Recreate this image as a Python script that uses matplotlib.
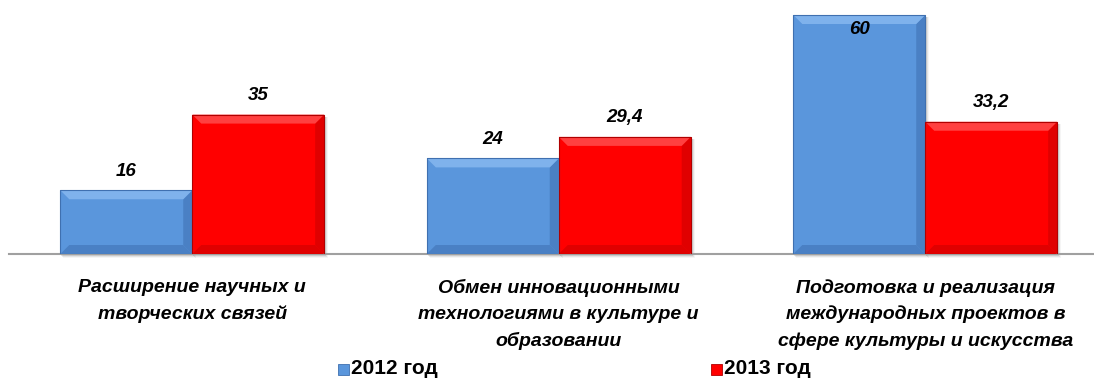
import numpy as np
import matplotlib.pyplot as plt
from matplotlib.patches import Polygon

# chart data
categories = [
    "Расширение научных и\nтворческих связей",
    "Обмен инновационными\nтехнологиями в культуре и\nобразовании",
    "Подготовка и реализация\nмеждународных проектов в\nсфере культуры и искусства",
]
series_names = ["2012 год", "2013 год"]
values_2012 = [16, 24, 60]
values_2013 = [35, 29.4, 33.2]
value_labels_2012 = ["16", "24", "60"]
value_labels_2013 = ["35", "29,4", "33,2"]

colors = ["#5A96DC", "#FF0000"]
light = ["#7FB2EC", "#FF4040"]
dark = ["#4A80C4", "#E00000"]
edge = ["#3F70B0", "#B00000"]

plt.rcParams['font.family'] = ['Liberation Sans', 'DejaVu Sans']

W, H = 1094, 385
fig = plt.figure(figsize=(W / 100, H / 100), dpi=100)

# axes placed in pixel terms: baseline at y=254, category centres at 192/558.5/925
left_px, right_px = 9, 1094
ax = fig.add_axes([left_px / W, (H - 254) / H, (right_px - left_px) / W, 254 / H])
ax.set_xlim(-0.5, -0.5 + (right_px - left_px) / 366.5)
ax.set_ylim(0, 60 * 254 / 239)
for s in ["top", "right", "left"]:
    ax.spines[s].set_visible(False)
ax.spines["bottom"].set_color("#A0A0A0")
ax.spines["bottom"].set_linewidth(1.5)
ax.set_yticks([])
ax.set_xticks([])

x = np.arange(len(categories))
bw = 0.36

# px -> data units for the bevel
px_x = (ax.get_xlim()[1] - ax.get_xlim()[0]) / (right_px - left_px)
px_y = (ax.get_ylim()[1] - ax.get_ylim()[0]) / 254
bev = 9


def bevel_bar(xc, h, i):
    x0, x1 = xc - bw / 2, xc + bw / 2
    bx, by = bev * px_x, bev * px_y
    # soft shadow
    for k, a in enumerate([0.10, 0.07, 0.04]):
        ax.add_patch(Polygon([(x0 + (k + 1) * px_x, -(k + 2) * px_y), (x1 + (k + 2) * px_x, -(k + 2) * px_y),
                              (x1 + (k + 2) * px_x, h - 2 * px_y), (x0 + (k + 1) * px_x, h - 2 * px_y)],
                             closed=True, color="black", alpha=a, lw=0, zorder=1, clip_on=False))
    ax.bar(xc, h, bw, color=colors[i], zorder=2, lw=0)
    top = [(x0, h), (x1, h), (x1 - bx, h - by), (x0 + bx, h - by)]
    bot = [(x0, 0), (x1, 0), (x1 - bx, by), (x0 + bx, by)]
    rgt = [(x1, 0), (x1, h), (x1 - bx, h - by), (x1 - bx, by)]
    ax.add_patch(Polygon(rgt, closed=True, color=dark[i], lw=0, zorder=3))
    ax.add_patch(Polygon(bot, closed=True, color=dark[i], lw=0, zorder=3))
    ax.add_patch(Polygon(top, closed=True, color=light[i], lw=0, zorder=3))
    ax.plot([x0, x1, x1, x0, x0], [0, 0, h, h, 0], color=edge[i], lw=0.8, zorder=4)


for j in range(len(categories)):
    bevel_bar(x[j] - bw / 2, values_2012[j], 0)
    bevel_bar(x[j] + bw / 2, values_2013[j], 1)

lab_kw = dict(ha="center", va="center", fontsize=13.5, fontweight="bold", fontstyle="italic", zorder=5)
for j in range(len(categories)):
    v = values_2012[j]
    if v > 55:
        ax.text(x[j] - bw / 2, v - 15 * px_y, value_labels_2012[j], **lab_kw)
    else:
        ax.text(x[j] - bw / 2, v + 19 * px_y, value_labels_2012[j], **lab_kw)
    ax.text(x[j] + bw / 2, values_2013[j] + 19 * px_y, value_labels_2013[j], **lab_kw)

# category labels under the axis, one text per line
for j, c in enumerate(categories):
    for k, line in enumerate(c.split("\n")):
        ax.text(x[j], -(34 + 26.5 * k) * px_y, line, ha="center", va="center", fontsize=14,
                fontweight="bold", fontstyle="italic", clip_on=False)

# legend
leg_y = 369
for i, (name, lx) in enumerate(zip(series_names, [338, 711])):
    fig.patches.append(plt.Rectangle(((lx) / W, (H - leg_y - 6) / H), 11 / W, 11 / H,
                                     transform=fig.transFigure, facecolor=colors[i],
                                     edgecolor=edge[i], lw=0.6))
    fig.text((lx + 13) / W, (H - leg_y) / H, name, ha="left", va="center",
             fontsize=15, fontweight="bold")

fig.savefig("out.png", dpi=100)
